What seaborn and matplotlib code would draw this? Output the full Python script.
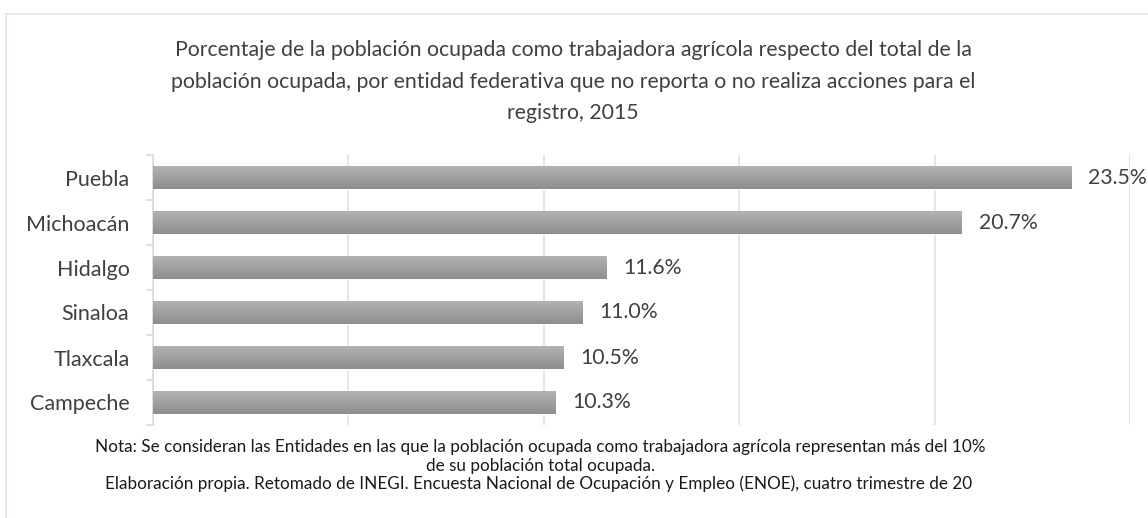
import matplotlib
matplotlib.use("Agg")
import matplotlib.pyplot as plt
from matplotlib.patches import Rectangle
from matplotlib.colors import LinearSegmentedColormap
import seaborn as sns
import numpy as np
import pandas as pd

entidades = ["Puebla", "Michoacán", "Hidalgo", "Sinaloa", "Tlaxcala", "Campeche"]
porcentajes = [23.5, 20.7, 11.6, 11.0, 10.5, 10.3]
etiquetas = ["23.5%", "20.7%", "11.6%", "11.0%", "10.5%", "10.3%"]
titulo = ["Porcentaje de la población ocupada como trabajadora agrícola respecto del total de la",
          "población ocupada, por entidad federativa que no reporta o no realiza acciones para el",
          "registro, 2015"]
nota1 = "Nota: Se consideran las Entidades en las que la población ocupada como trabajadora agrícola representan más del 10%"
nota2 = "de su población total ocupada."
nota3 = "Elaboración propia. Retomado de INEGI. Encuesta Nacional de Ocupación y Empleo (ENOE), cuatro trimestre de 20"

sns.set_theme(style="white")
plt.rcParams['font.family'] = ['Lato', 'DejaVu Sans']

W, H = 1148, 518
fig = plt.figure(figsize=(W / 100, H / 100), dpi=100)
fig.patch.set_facecolor("white")

# chart-area border (only top and left edges visible)
fig.patches.append(Rectangle((6 / W, -0.1), 1.2, 1 - 14 / H + 0.1, transform=fig.transFigure,
                             fill=False, edgecolor="#dfe3ea", linewidth=1.2))

ax = fig.add_axes([153 / W, 1 - 425 / H, (1130 - 153) / W, 270 / H])
df = pd.DataFrame({"entidad": entidades, "pct": porcentajes})
sns.barplot(data=df, x="pct", y="entidad", orient="h", color="#a0a0a0",
            saturation=1, width=0.53, ax=ax, zorder=2)

# vertical gradient on each bar
grad = np.linspace(0, 1, 64).reshape(-1, 1)
cmap = LinearSegmentedColormap.from_list("g", ["#b4b4b4", "#8e8e8e"])
for p in list(ax.patches):
    x0, y0 = p.get_x(), p.get_y()
    w, h = p.get_width(), p.get_height()
    im = ax.imshow(grad, cmap=cmap, aspect="auto", extent=[x0, x0 + w, y0 + h, y0],
                   origin="upper", zorder=3, interpolation="bilinear")
    im.set_clip_path(p)

ax.set_xlim(0, 25)
ax.set_ylim(5.5, -0.5)
ax.set_xticks([0, 5, 10, 15, 20, 25])
ax.set_xticklabels([])
ax.xaxis.grid(True, color="#dfe3ea", linewidth=1.3, zorder=0)
ax.set_axisbelow(True)
ax.set_xlabel("")
ax.set_ylabel("")
for s in ["top", "right", "bottom"]:
    ax.spines[s].set_visible(False)
ax.spines["left"].set_color("#d6dae1")
ax.spines["left"].set_linewidth(1.2)
ax.set_yticks(np.arange(-0.5, 6, 1), minor=True)
ax.tick_params(axis="y", which="minor", length=5, color="#d6dae1", width=1.2, left=True)
ax.tick_params(axis="y", which="major", length=0, pad=17, labelsize=15.5, labelcolor="#404040")
ax.tick_params(axis="x", length=0)

ax.bar_label(ax.containers[0], labels=etiquetas, padding=12, fontsize=15.3, color="#404040")

for txt, yb in zip(titulo, [56, 88, 119]):
    fig.text(573 / W, 1 - yb / H, txt, ha="center", va="baseline", fontsize=15.3,
             color="#404040")

fig.text(540 / W, 1 - 452 / H, nota1, ha="center", va="baseline", fontsize=12.3, color="#1a1a1a")
fig.text(540 / W, 1 - 471 / H, nota2, ha="center", va="baseline", fontsize=12.3, color="#1a1a1a")
fig.text(539 / W, 1 - 489 / H, nota3, ha="center", va="baseline", fontsize=12.3, color="#1a1a1a")

fig.savefig("out.png", dpi=100, facecolor="white")
